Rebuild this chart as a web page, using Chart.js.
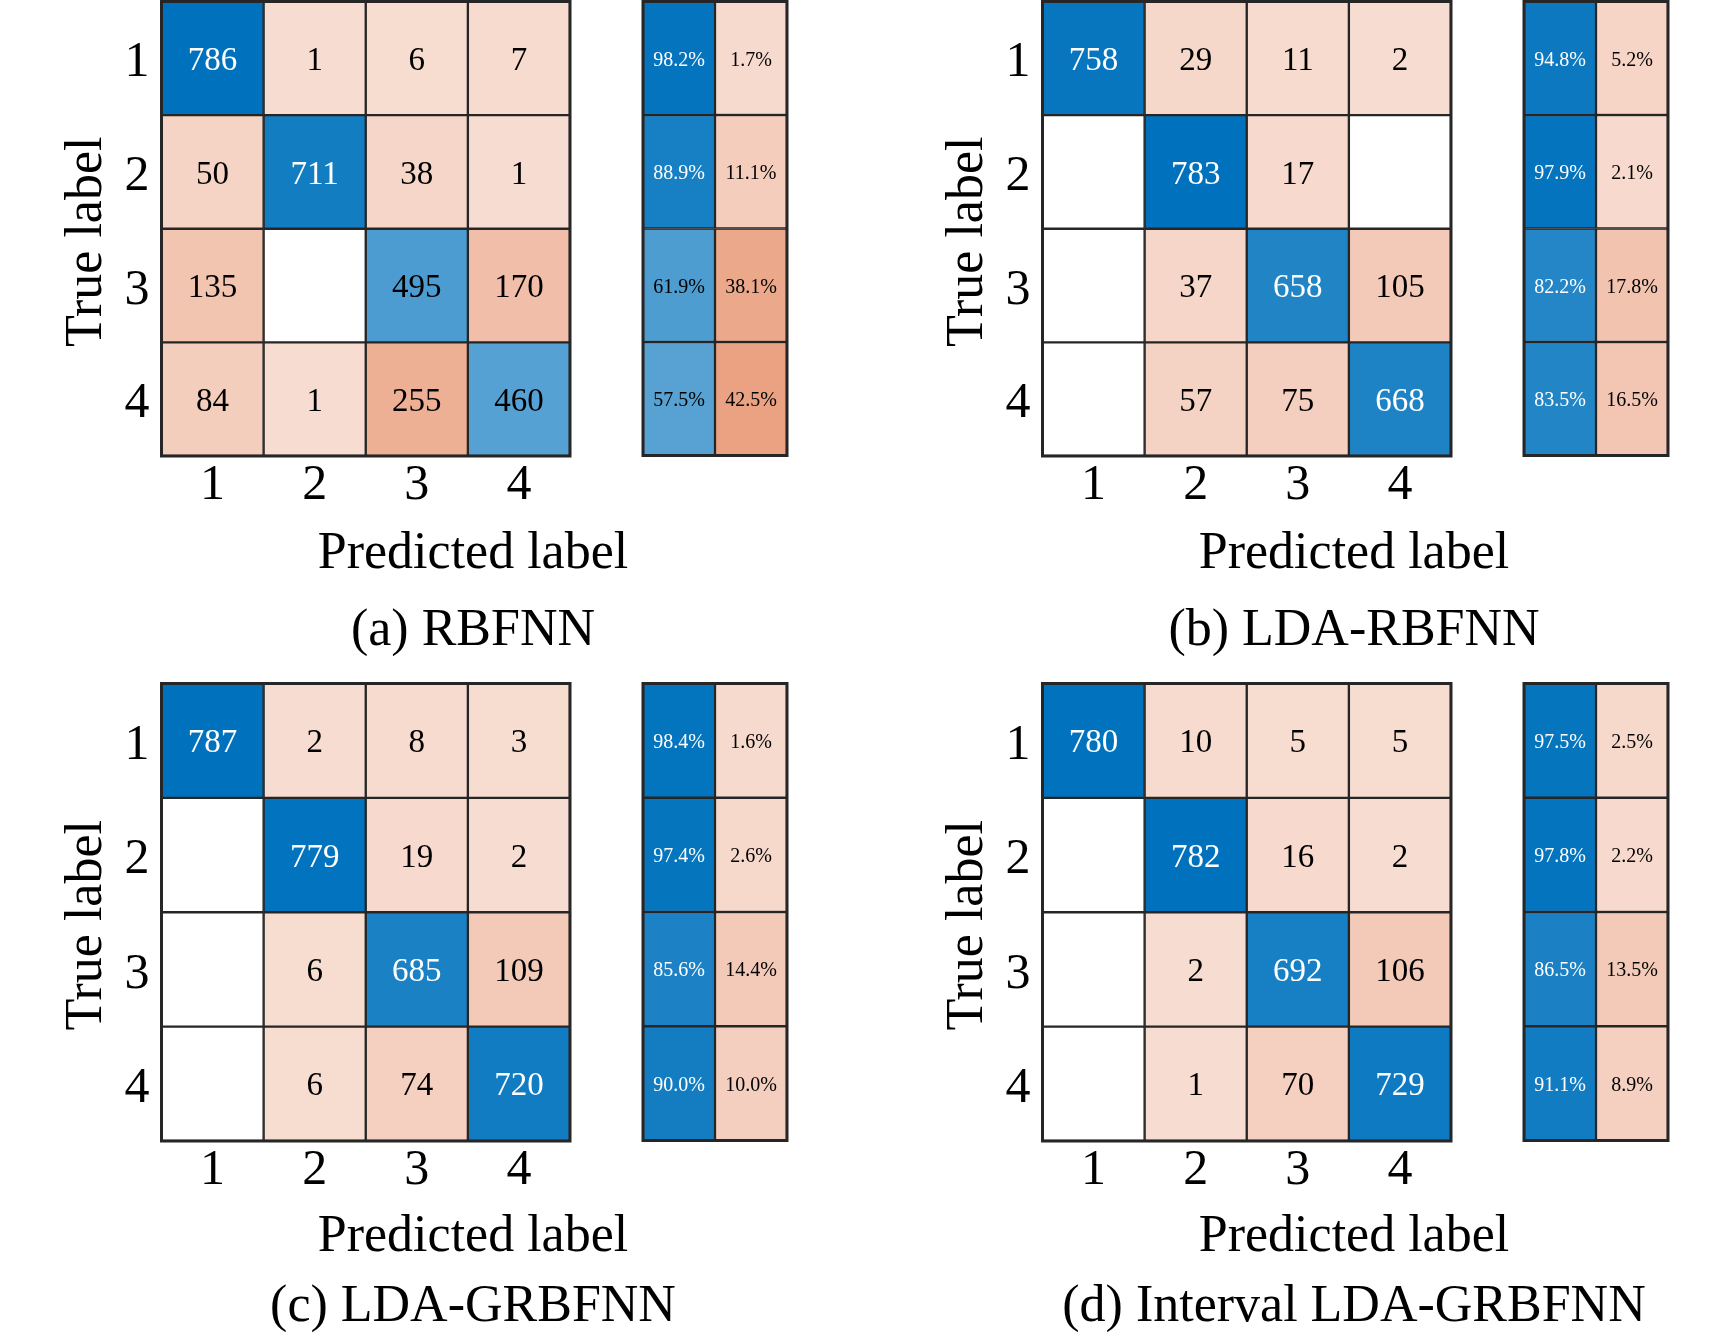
<!DOCTYPE html>
<html>
<head>
<meta charset="utf-8">
<script src="https://cdn.jsdelivr.net/npm/chart.js@4.4.0/dist/chart.umd.min.js"></script>
<style>
  body { margin: 0; background: #fff; width: 1732px; height: 1339px; position: relative; overflow: hidden;
         font-family: "Liberation Serif", "Times New Roman", serif; }
  canvas { position: absolute; }
  .lbl { position: absolute; width: 800px; text-align: center; font-size: 52px; line-height: 60px;
         color: #000; white-space: nowrap; }
</style>
</head>
<body>
<script>
// Class labels (true / predicted)
const classLabels = ["1", "2", "3", "4"];
const captions = ["(a) RBFNN", "(b) LDA-RBFNN", "(c) LDA-GRBFNN", "(d) Interval LDA-GRBFNN"];

// Confusion matrices: rows = true label, columns = predicted label
const countsA = [[786, 1, 6, 7], [50, 711, 38, 1], [135, 0, 495, 170], [84, 1, 255, 460]];
const countsB = [[758, 29, 11, 2], [0, 783, 17, 0], [0, 37, 658, 105], [0, 57, 75, 668]];
const countsC = [[787, 2, 8, 3], [0, 779, 19, 2], [0, 6, 685, 109], [0, 6, 74, 720]];
const countsD = [[780, 10, 5, 5], [0, 782, 16, 2], [0, 2, 692, 106], [0, 1, 70, 729]];

// Row summary: percent correct / incorrect per true class
const correctA = [98.2, 88.9, 61.9, 57.5];
const wrongA = [1.7, 11.1, 38.1, 42.5];
const correctB = [94.8, 97.9, 82.2, 83.5];
const wrongB = [5.2, 2.1, 17.8, 16.5];
const correctC = [98.4, 97.4, 85.6, 90.0];
const wrongC = [1.6, 2.6, 14.4, 10.0];
const correctD = [97.5, 97.8, 86.5, 91.1];
const wrongD = [2.5, 2.2, 13.5, 8.9];

const panels = [
  { counts: countsA, correct: correctA, wrong: wrongA, col: 0, row: 0 },
  { counts: countsB, correct: correctB, wrong: wrongB, col: 1, row: 0 },
  { counts: countsC, correct: correctC, wrong: wrongC, col: 0, row: 1 },
  { counts: countsD, correct: correctD, wrong: wrongD, col: 1, row: 1 },
];

// layout (pixels)
const colX = [0, 881];
const rowY = [0, 682];
const matHeight = [454, 457];
const labelTop = [521, 1204];
const captionTop = [598, 1274];

const BLUE = [0, 114, 189];
const ORANGE = [217, 83, 25];
const LINE = "#262626";

function shade(base, a) {
  const c = base.map(v => Math.round(255 + (v - 255) * a));
  return `rgb(${c[0]}, ${c[1]}, ${c[2]})`;
}
function alphaFor(v, max) { return 0.2 + 0.8 * v / max; }

const outlinePlugin = {
  id: "outline",
  afterDatasetsDraw(chart) {
    const { ctx, chartArea: a } = chart;
    ctx.save();
    ctx.strokeStyle = LINE;
    ctx.lineWidth = 3;
    ctx.strokeRect(a.left, a.top, a.right - a.left, a.bottom - a.top);
    ctx.restore();
  }
};

const cellTextPlugin = {
  id: "cellText",
  afterDatasetsDraw(chart, args, opts) {
    const ctx = chart.ctx;
    ctx.save();
    ctx.font = opts.font;
    ctx.textAlign = "center";
    ctx.textBaseline = "middle";
    chart.data.datasets.forEach((ds, i) => {
      chart.getDatasetMeta(i).data.forEach((bar, j) => {
        const t = ds.cellText[j];
        if (!t) return;
        const p = bar.getProps(["x", "y", "base"], true);
        ctx.fillStyle = ds.textColor[j];
        ctx.fillText(t, p.x, (p.y + p.base) / 2 + opts.dy);
      });
    });
    ctx.restore();
  }
};

function zeroPad(s) { s.paddingTop = 0; s.paddingBottom = 0; s.paddingLeft = 0; s.paddingRight = 0; }

function addCanvas(left, top, w, h) {
  const c = document.createElement("canvas");
  c.width = w; c.height = h;
  c.style.left = left + "px"; c.style.top = top + "px";
  c.style.width = w + "px"; c.style.height = h + "px";
  document.body.appendChild(c);
  return c.getContext("2d");
}

function addLabel(text, cx, top) {
  const d = document.createElement("div");
  d.className = "lbl";
  d.textContent = text;
  d.style.left = (cx - 400) + "px";
  d.style.top = top + "px";
  document.body.appendChild(d);
}

panels.forEach((p, k) => {
  const ox = colX[p.col], oy = rowY[p.row], h = matHeight[p.row];
  const max = Math.max(...p.counts.flat());

  // confusion matrix
  const matSets = p.counts.map((rowVals, r) => ({
    data: rowVals.map(() => [r + 0.5, r + 1.5]),
    backgroundColor: rowVals.map((v, c) => v === 0 ? "#ffffff" : shade(r === c ? BLUE : ORANGE, alphaFor(v, max))),
    cellText: rowVals.map(v => v === 0 ? "" : String(v)),
    textColor: rowVals.map((v, c) => (r === c && alphaFor(v, max) > 0.78) ? "#ffffff" : "#000000"),
    borderColor: LINE,
    borderWidth: 1.5,
    borderSkipped: false,
    grouped: false,
    barPercentage: 1,
    categoryPercentage: 1
  }));

  new Chart(addCanvas(ox, oy, 580, Math.ceil(1.5 + h + 80)), {
    type: "bar",
    data: { labels: classLabels, datasets: matSets },
    options: {
      responsive: false,
      animation: false,
      layout: { padding: { left: 0, right: 10, top: 1.5, bottom: 0 } },
      plugins: {
        legend: { display: false },
        tooltip: { enabled: false },
        cellText: { font: "33px 'Liberation Serif'", dy: 3 }
      },
      scales: {
        x: {
          type: "category",
          stacked: true,
          grid: { display: false, drawTicks: false },
          border: { display: false },
          ticks: { color: "#000", font: { family: "Liberation Serif", size: 50 }, padding: 0, maxRotation: 0 },
          afterFit: s => { s.height = 80; zeroPad(s); }
        },
        y: {
          type: "linear",
          min: 0.5,
          max: 4.5,
          reverse: true,
          grid: { display: false, drawTicks: false },
          border: { display: false },
          afterBuildTicks: s => { s.ticks = classLabels.map((_, i) => ({ value: i + 1 })); },
          ticks: {
            color: "#000",
            font: { family: "Liberation Serif", size: 50 },
            padding: 12,
            labelOffset: 5,
            callback: v => classLabels[v - 1]
          },
          title: {
            display: true,
            text: "True label\u2002",
            color: "#000",
            font: { family: "Liberation Serif", size: 52 },
            padding: { top: 56, bottom: 0 }
          },
          afterFit: s => { s.width = 161.5; zeroPad(s); }
        }
      }
    },
    plugins: [cellTextPlugin, outlinePlugin]
  });

  // row summary (correct / incorrect)
  const sumSets = p.correct.map((pc, r) => {
    const pw = p.wrong[r];
    const ac = alphaFor(pc, 100), aw = alphaFor(pw, 100);
    return {
      data: [[r + 0.5, r + 1.5], [r + 0.5, r + 1.5]],
      backgroundColor: [shade(BLUE, ac), shade(ORANGE, aw)],
      cellText: [pc.toFixed(1) + "%", pw.toFixed(1) + "%"],
      textColor: [ac > 0.78 ? "#ffffff" : "#000000", aw > 0.78 ? "#ffffff" : "#000000"],
      borderColor: LINE,
      borderWidth: 1.5,
      borderSkipped: false,
      grouped: false,
      barPercentage: 1,
      categoryPercentage: 1
    };
  });

  const sideH = Math.ceil(1.5 + h + 10);
  new Chart(addCanvas(ox + 632.5, oy, 164, sideH), {
    type: "bar",
    data: { labels: ["correct", "incorrect"], datasets: sumSets },
    options: {
      responsive: false,
      animation: false,
      layout: { padding: { left: 10, right: 10, top: 1.5, bottom: sideH - 1.5 - h } },
      plugins: {
        legend: { display: false },
        tooltip: { enabled: false },
        cellText: { font: "20px 'Liberation Serif'", dy: 2 }
      },
      scales: {
        x: { type: "category", stacked: true, display: false },
        y: { type: "linear", min: 0.5, max: 4.5, reverse: true, display: false }
      }
    },
    plugins: [cellTextPlugin, outlinePlugin]
  });

  addLabel("Predicted label", ox + 473, labelTop[p.row]);
  addLabel(captions[k], ox + 473, captionTop[p.row]);
});
</script>
</body>
</html>
